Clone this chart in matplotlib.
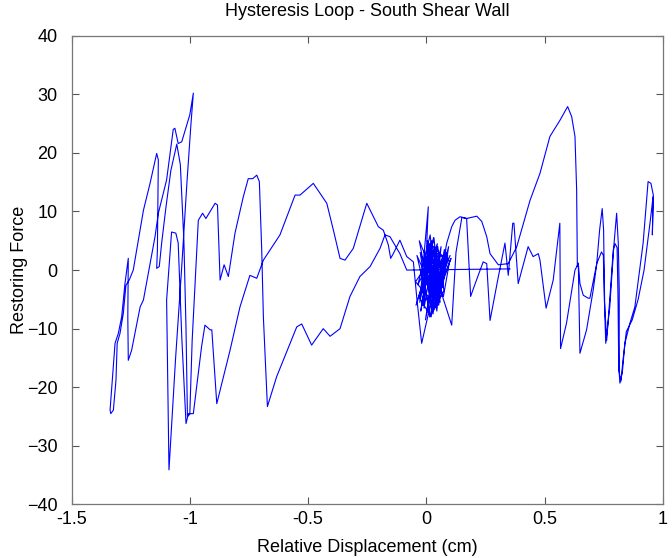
import matplotlib
matplotlib.use("Agg")
import matplotlib.pyplot as plt
import numpy as np

# ---- data (relative displacement cm, restoring force) ----
cluster_d = [0.000, 0.006, -0.004, 0.010, -0.008, 0.014, -0.012, 0.018, -0.016, 0.022,
             -0.020, 0.026, -0.024, 0.030, -0.028, 0.008, -0.010, 0.034, -0.032, 0.012,
             0.038, -0.036, 0.016, 0.042, -0.040, 0.020, 0.046, -0.044, 0.024, 0.050,
             -0.030, 0.028, 0.054, -0.020, 0.032, 0.058, -0.012, 0.036, 0.062, -0.004,
             0.040, 0.066, 0.004, 0.044, 0.070, 0.010, 0.048, 0.074, 0.014, -0.026,
             0.052, 0.078, 0.018, -0.018, 0.056, 0.082, 0.022, -0.008, 0.060, 0.086,
             0.026, 0.002, 0.064, 0.090, 0.030, 0.008, 0.068, 0.094, 0.034, 0.012,
             0.072, 0.098, 0.038, -0.046, 0.040, 0.076, 0.044, 0.100, 0.048, 0.080,
             0.052, 0.104, 0.056, 0.107]
cluster_f = [0.0, 2.0, -2.5, 3.5, -4.0, 4.5, -5.0, 3.0, -6.0, 5.0,
             -3.5, 4.0, -7.0, 5.5, -5.5, 10.8, -6.5, 4.0, -4.5, -7.5,
             3.5, -2.5, 6.0, -5.0, 2.5, -8.0, 4.5, -6.0, 3.0, -3.0,
             5.0, -7.5, 3.0, -4.0, 5.5, -5.5, 2.0, -6.5, 4.0, -8.5,
             3.5, -4.5, 5.0, -7.0, 2.5, -5.0, 4.0, -3.5, -8.0, 3.0,
             -6.0, 2.0, 4.5, -5.5, -3.0, 3.5, -6.5, 2.5, -4.0, 3.0,
             -5.5, 4.0, -2.5, 2.5, -7.0, 3.5, -3.0, 4.0, -5.0, 2.0,
             -4.5, 1.5, 3.0, -2.0, -6.0, 3.5, -3.5, 2.5, -2.0, 3.0,
             -4.0, 2.0, -3.0, -9.4]

right_out_d = [0.125, 0.150, 0.170, 0.187, 0.200, 0.240, 0.255, 0.269, 0.300, 0.332,
               0.346, 0.365, 0.370, 0.388, 0.430, 0.451, 0.473, 0.480, 0.506, 0.536,
               0.564, 0.567, 0.592, 0.628, 0.642, 0.649, 0.677, 0.705, 0.720, 0.732,
               0.743, 0.749, 0.754, 0.758, 0.775, 0.792, 0.804, 0.811, 0.815, 0.815,
               0.818, 0.828, 0.839, 0.860, 0.881, 0.916, 0.937, 0.949, 0.959, 0.955]
right_out_f = [3.0, 9.0, 8.8, -4.5, -3.0, 1.4, 1.1, -8.6, -2.0, 4.6,
               -0.9, 8.0, 8.0, -2.3, 4.0, 2.3, 2.8, 1.7, -6.5, -1.7,
               8.0, -13.4, -9.1, 0.0, 1.1, -14.2, -10.2, -3.4, 1.1, 6.8,
               10.5, 6.8, -7.4, -12.5, -6.3, 4.0, 9.7, 4.6, -3.4, -17.6,
               -19.3, -17.5, -12.5, -9.1, -6.3, 4.6, 15.1, 14.8, 12.8, 6.0]

back_d = [0.958, 0.945, 0.920, 0.895, 0.870, 0.845, 0.832, 0.822, 0.813, 0.810,
          0.806, 0.798, 0.790, 0.775, 0.762, 0.752, 0.748, 0.740, 0.720, 0.691,
          0.684, 0.663, 0.649, 0.642, 0.638, 0.635, 0.628, 0.614, 0.597, 0.565,
          0.522, 0.480, 0.438, 0.382, 0.346, 0.304, 0.269, 0.255, 0.234, 0.213,
          0.170, 0.142, 0.121, 0.107, 0.086, 0.057, 0.015, -0.020, -0.040, -0.055,
          -0.083, -0.112, -0.140, -0.151, -0.161, -0.182, -0.203, -0.231, -0.252, -0.309,
          -0.344, -0.365, -0.393, -0.421, -0.478, -0.534, -0.555, -0.619, -0.689, -0.717,
          -0.746, -0.788, -0.830, -0.886, -0.907, -0.914, -0.936, -0.950, -0.985, -1.006,
          -1.016]
back_f = [12.5, 8.0, 0.0, -5.0, -8.5, -10.5, -15.0, -19.0, -17.0, -5.0,
          3.8, 4.5, 3.5, -5.0, -12.0, -5.0, 2.5, 3.1, 1.1, -4.8,
          -4.8, -4.3, -2.3, 1.2, 0.6, 13.7, 22.8, 26.2, 27.9, 25.6,
          22.8, 16.5, 11.9, 4.0, 1.1, 0.9, 2.8, 5.7, 8.3, 9.2,
          8.8, 9.1, 8.5, 7.4, 4.6, -1.7, -6.3, -12.5, -5.0, 1.4,
          2.3, 5.1, 2.8, 2.0, 4.3, 6.8, 7.4, 9.7, 11.4, 3.7,
          1.7, 2.0, 6.8, 11.4, 14.8, 12.8, 12.8, 6.0, 1.7, -1.4,
          -0.9, -6.3, -13.7, -22.8, -10.2, -10.2, -9.4, -13.0, -24.5, -24.5,
          -26.2]

left_d = [-1.034, -1.049, -1.059, -1.077, -1.098, -1.088, -1.060, -1.035, -1.012, -0.995,
          -0.985, -1.000, -1.034, -1.049, -1.063, -1.070, -1.098, -1.133, -1.147, -1.168,
          -1.196, -1.210, -1.246, -1.260, -1.262, -1.260, -1.274, -1.288, -1.302, -1.316,
          -1.337, -1.334, -1.323, -1.312, -1.307, -1.295, -1.281, -1.270, -1.256, -1.239,
          -1.196, -1.168, -1.140, -1.133, -1.137, -1.140, -1.129, -1.119, -1.100, -1.080,
          -1.055, -1.040, -1.025, -1.016, -1.010, -1.000, -0.990, -0.975, -0.964]
left_f = [-11.4, 4.6, 6.3, 6.5, -5.1, -34.1, -15.0, 0.0, 15.0, 25.0,
          30.2, 26.5, 21.9, 21.6, 24.2, 24.0, 15.4, 9.7, 5.7, 1.1,
          -5.1, -6.3, -13.7, -15.4, -8.0, 2.0, -2.3, -8.0, -10.8, -12.5,
          -23.9, -24.5, -23.9, -18.8, -12.5, -10.8, -7.4, -2.6, -1.7, 0.0,
          10.2, 14.8, 19.9, 18.8, 3.4, 0.3, 0.6, 4.6, 11.0, 17.0,
          21.5, 18.0, 5.0, -10.0, -25.0, -24.6, -12.0, 0.0, 8.5]

return_d = [-0.946, -0.932, -0.893, -0.883, -0.872, -0.855, -0.837, -0.809, -0.774, -0.753,
            -0.734, -0.717, -0.706, -0.696, -0.689, -0.672, -0.633, -0.548, -0.527, -0.485,
            -0.436, -0.407, -0.365, -0.323, -0.281, -0.238, -0.196, -0.175, -0.154, -0.112,
            -0.083, 0.353]
return_f = [9.7, 8.8, 11.4, 11.1, -1.7, 0.9, -1.1, 6.3, 12.5, 15.6,
            15.6, 16.2, 15.1, 3.4, -8.0, -23.3, -18.2, -9.7, -9.2, -12.8,
            -10.0, -11.3, -10.0, -4.5, -1.1, 0.6, 3.7, 6.0, 5.7, 2.8,
            0.0, 0.2]

disp = np.concatenate([cluster_d, right_out_d, back_d, left_d, return_d])
force = np.concatenate([cluster_f, right_out_f, back_f, left_f, return_f])

x_ticks = [-1.5, -1, -0.5, 0, 0.5, 1]
x_labels = ["-1.5", "-1", "-0.5", "0", "0.5", "1"]
y_ticks = [-40, -30, -20, -10, 0, 10, 20, 30, 40]

plt.rcParams['font.family'] = ['Liberation Sans', 'DejaVu Sans']

fig = plt.figure(figsize=(6.72, 5.58), dpi=100)
ax = fig.add_axes([0.1064, 0.096, 0.8802, 0.840])
ax.plot(disp, force, color=(0, 0, 1), linewidth=0.8)
ax.set_xlim(-1.5, 1)
ax.set_ylim(-40, 40)
ax.set_xticks(x_ticks)
ax.set_xticklabels(x_labels)
ax.set_yticks(y_ticks)
ax.tick_params(direction='in', top=True, right=True, length=5, width=0.8,
               labelsize=13, colors='#555555', labelcolor='black')
ax.tick_params(axis='x', pad=5)
ax.tick_params(axis='y', pad=10)
for s in ax.spines.values():
    s.set_color('#777777')
    s.set_linewidth(0.9)
ax.set_title("Hysteresis Loop - South Shear Wall", fontsize=13, pad=14)
ax.set_xlabel("Relative Displacement (cm)", fontsize=13, labelpad=8)
ax.set_ylabel("Restoring Force", fontsize=13, labelpad=-1)
fig.savefig("out.png", dpi=100)
